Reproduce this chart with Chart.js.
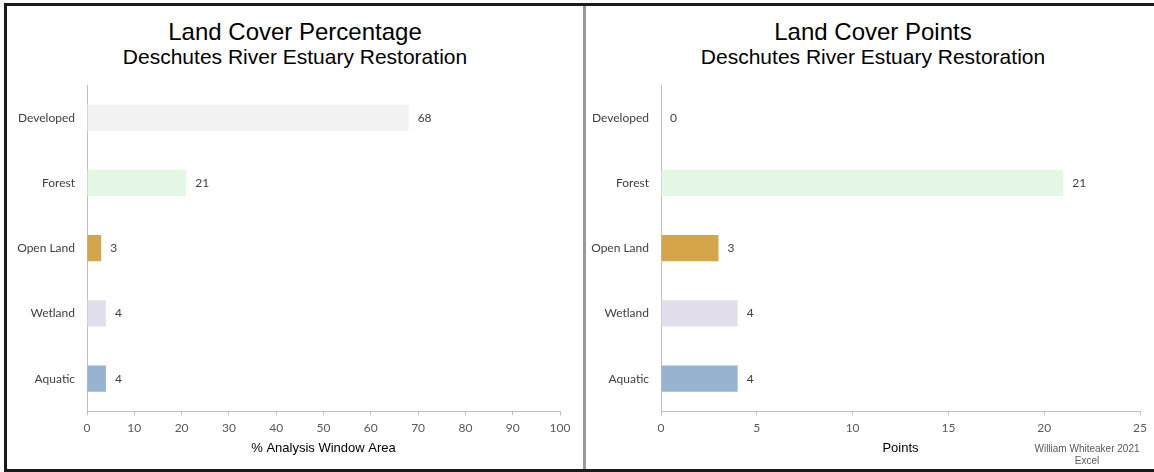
<!DOCTYPE html>
<html>
<head>
<meta charset="utf-8">
<script src="https://cdn.jsdelivr.net/npm/chart.js@4"></script>
<style>
body { margin: 0; background: #fff; width: 1154px; height: 472px; overflow: hidden; position: relative; font-family: "Liberation Sans", Arial, sans-serif; color: #000; }
#frame { position: absolute; left: 4px; top: 3px; width: 1160px; height: 463px; border: 3px solid #1a1a1a; border-right: none; }
#divider { position: absolute; left: 583px; top: 6px; width: 3px; height: 463px; background: #9a9a9a; }
.panel { position: absolute; top: 6px; }
.title { position: absolute; top: 18px; width: 500px; text-align: center; font-size: 24px; line-height: 28px; white-space: nowrap; }
.subtitle { position: absolute; top: 45px; width: 500px; text-align: center; font-size: 21px; line-height: 24px; white-space: nowrap; }
#credit { position: absolute; left: 1027px; top: 443px; width: 120px; text-align: center; font-size: 10px; line-height: 12px; color: #595959; }
</style>
</head>
<body>
<div id="frame"></div>
<div id="divider"></div>
<div class="title" style="left:45px">Land Cover Percentage</div>
<div class="subtitle" style="left:45px">Deschutes River Estuary Restoration</div>
<div class="title" style="left:623px">Land Cover Points</div>
<div class="subtitle" style="left:623px">Deschutes River Estuary Restoration</div>
<canvas id="percent" class="panel" width="576" height="463" style="left:7px"></canvas>
<canvas id="points" class="panel" width="568" height="463" style="left:586px"></canvas>
<div id="credit">William Whiteaker 2021<br>Excel</div>
<script>
const categories = ['Developed', 'Forest', 'Open Land', 'Wetland', 'Aquatic'];
const percentValues = [68, 21, 3, 4, 4];
const pointValues = [0, 21, 3, 4, 4];
const barColors = ['#f2f2f2', '#e5f7e5', '#d4a54a', '#e3deeb', '#98b3cf'];

// numbers printed just past the end of each bar
const valueLabels = {
    id: 'valueLabels',
    afterDatasetsDraw(chart) {
        const ctx = chart.ctx;
        const meta = chart.getDatasetMeta(0);
        ctx.save();
        ctx.font = '12px Lato';
        ctx.fillStyle = '#404040';
        ctx.textBaseline = 'middle';
        meta.data.forEach((bar, i) => {
            ctx.fillText(chart.data.datasets[0].data[i], bar.x + 9, bar.y);
        });
        ctx.restore();
    }
};

function makeChart(id, values, xTitle, xMax, xStep, axisWidth, padRight) {
    new Chart(document.getElementById(id), {
        type: 'bar',
        data: {
            labels: categories,
            datasets: [{
                data: values,
                backgroundColor: barColors,
                barPercentage: 0.4,
                categoryPercentage: 1
            }]
        },
        options: {
            indexAxis: 'y',
            responsive: false,
            animation: false,
            layout: { padding: { top: 79, left: 0, right: padRight, bottom: 12.3 } },
            plugins: {
                legend: { display: false },
                tooltip: { enabled: false }
            },
            scales: {
                x: {
                    min: 0,
                    max: xMax,
                    ticks: { stepSize: xStep, color: '#595959', font: { family: 'Lato', size: 12 }, padding: 6, maxRotation: 0 },
                    grid: { drawOnChartArea: false, tickLength: 4, color: '#bfbfbf' },
                    border: { color: '#bfbfbf' },
                    title: {
                        display: true,
                        text: xTitle,
                        color: '#000',
                        font: { family: 'Liberation Sans', size: 13, lineHeight: 1 },
                        padding: { top: 0, bottom: 2 }
                    }
                },
                y: {
                    grid: { display: false },
                    border: { display: true, color: '#bfbfbf' },
                    ticks: { color: '#404040', font: { family: 'Lato', size: 12 }, padding: 4 },
                    afterFit(scale) { scale.width = axisWidth; }
                }
            }
        },
        plugins: [valueLabels]
    });
}

makeChart('percent', percentValues, '% Analysis Window Area', 100, 10, 80, 23);
makeChart('points', pointValues, 'Points', 25, 5, 75, 14);
</script>
</body>
</html>
